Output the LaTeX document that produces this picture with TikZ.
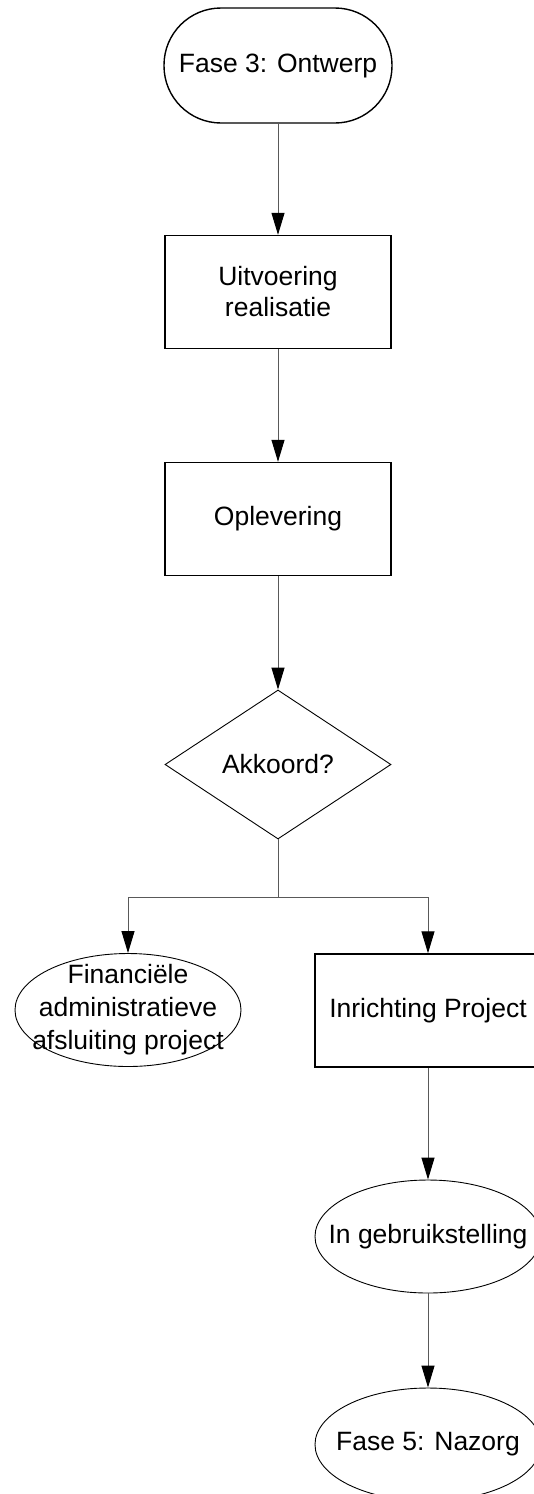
\documentclass[tikz,border=0pt]{standalone}
\usepackage{fontspec}
\setmainfont{Liberation Sans}
\usetikzlibrary{arrows.meta,shapes.geometric}
\begin{document}
\begin{tikzpicture}[x=1pt,y=-1pt,
  txt/.style={align=center,inner sep=0pt,font=\fontsize{26.5}{31}\selectfont},
  boxshape/.style={draw=black,line width=1.4pt,rectangle,minimum width=226pt,minimum height=113pt,inner sep=0pt},
  ovalshape/.style={draw=black,line width=0.9pt,ellipse,minimum width=226pt,minimum height=113pt,inner sep=0pt},
  stadium/.style={draw=black,line width=1.4pt,rectangle,rounded corners=57pt,minimum width=228pt,minimum height=115pt,inner sep=0pt},
  decshape/.style={draw=black,line width=0.9pt,diamond,minimum width=226pt,minimum height=149pt,inner sep=0pt},
  conn/.style={draw=black!65,line width=1pt,-{Triangle[length=22pt,width=13pt,fill=black,color=black]}},
  plain/.style={draw=black!65,line width=1pt}]
\useasboundingbox (0,0) rectangle (533,1494);
\fill[white] (0,0) rectangle (533,1494);
\node[stadium] (start) at (278,65.5) {};
\node[txt] at (start) {Fase 3: Ontwerp};
\node[boxshape] (uit) at (278,292) {};
\node[txt] at (uit) {Uitvoering\\realisatie};
\node[boxshape] (opl) at (278,519) {};
\node[txt] at (opl) {Oplevering};
\node[decshape] (akk) at (278,764.5) {};
\node[txt] at (akk) {Akkoord?};
\coordinate (j) at (278,897);
\node[ovalshape] (fin) at (128,1010) {};
\node[txt,font=\fontsize{26.5}{33}\selectfont] at (fin) {Financiële\\administratieve\\afsluiting project};
\node[boxshape] (inr) at (428,1010.5) {};
\node[txt] at (inr) {Inrichting Project};
\node[ovalshape] (geb) at (428,1236.5) {};
\node[txt] at (geb) {In gebruikstelling};
\node[ovalshape] (naz) at (428,1444.5) {};
\node[txt] at (naz) {Fase 5: Nazorg};
\draw[conn] (start.south) -- (uit.north);
\draw[conn] (uit.south) -- (opl.north);
\draw[conn] (opl.south) -- (akk.north);
\draw[plain] (akk.south) -- (j);
\draw[conn] (j) -| (fin.north);
\draw[conn] (j) -| (inr.north);
\draw[conn] (inr.south) -- (geb.north);
\draw[conn] (geb.south) -- (naz.north);
\end{tikzpicture}
\end{document}
